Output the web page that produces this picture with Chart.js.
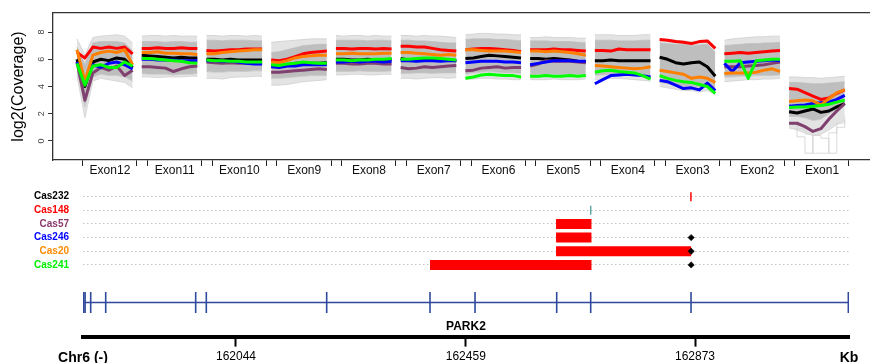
<!DOCTYPE html>
<html><head><meta charset="utf-8">
<script src="https://cdn.jsdelivr.net/npm/chart.js@4"></script>
<style>
html,body{margin:0;padding:0;background:#fff;}
#wrap{position:relative;width:870px;height:363px;overflow:hidden;background:#fff;}
#c1{position:absolute;left:0;top:0;}
#c2{position:absolute;left:0;top:183px;}
</style></head><body>
<div id="wrap">
<canvas id="c1" width="870" height="185"></canvas>
<canvas id="c2" width="870" height="180"></canvas>
</div>
<script>
// ---------- DATA: coverage panel ----------
const exonNames = ['Exon12','Exon11','Exon10','Exon9','Exon8','Exon7','Exon6','Exon5','Exon4','Exon3','Exon2','Exon1'];
const yTickValues = [0, 2, 4, 6, 8];

const covRed = [
  [6.5,6.1,6.9,6.8,6.9,6.8,6.9,6.4],
  [6.8,6.8,6.85,6.8,6.8,6.85,6.8,6.8],
  [6.65,6.6,6.65,6.7,6.7,6.75,6.75,6.75],
  [5.95,5.9,6.0,6.2,6.4,6.5,6.55,6.6],
  [6.8,6.8,6.75,6.8,6.8,6.75,6.8,6.75],
  [6.95,6.95,6.9,6.9,6.8,6.7,6.65,6.6],
  [6.7,6.75,6.8,6.8,6.75,6.7,6.65,6.55],
  [6.7,6.7,6.7,6.75,6.7,6.7,6.65,6.6],
  [6.65,6.65,6.6,6.75,6.7,6.7,6.7,6.7],
  [7.45,7.4,7.3,7.25,7.15,7.3,7.35,6.8],
  [6.4,6.45,6.5,6.45,6.5,6.55,6.6,6.65],
  [3.85,3.8,3.55,3.3,3.05,3.15,3.5,3.75]
];
const covOrange = [
  [6.7,4.4,6.3,6.5,6.6,6.5,6.7,5.6],
  [6.5,6.5,6.55,6.45,6.45,6.4,6.4,6.35],
  [6.4,6.4,6.5,6.55,6.6,6.65,6.7,6.7],
  [5.8,5.75,5.9,6.1,6.2,6.25,6.3,6.3],
  [6.4,6.4,6.45,6.4,6.4,6.4,6.45,6.45],
  [6.5,6.5,6.45,6.4,6.35,6.3,6.35,6.3],
  [6.7,6.7,6.65,6.6,6.6,6.6,6.55,6.5],
  [6.6,6.6,6.55,6.6,6.55,6.5,6.4,6.3],
  [5.55,5.5,5.45,5.4,5.35,5.3,5.35,5.45],
  [5.2,5.1,5.0,4.9,4.6,4.7,4.6,4.3],
  [4.95,5.0,5.0,5.0,5.05,5.2,5.3,5.1],
  [2.9,2.95,3.0,2.95,2.65,3.1,3.55,3.75]
];
const covBlack = [
  [6.0,4.0,5.8,6.0,5.9,6.1,6.0,5.4],
  [6.3,6.25,6.2,6.15,6.1,6.15,6.1,6.1],
  [6.0,6.0,5.95,6.0,5.95,5.95,5.95,5.95],
  [5.5,5.5,5.6,5.7,5.7,5.7,5.7,5.75],
  [6.0,6.0,5.95,5.95,6.0,5.95,5.95,6.0],
  [6.05,5.95,5.9,6.0,6.0,5.95,5.95,5.9],
  [6.05,6.1,6.2,6.3,6.25,6.2,6.15,6.1],
  [6.05,6.05,6.0,6.05,6.0,5.95,5.85,5.8],
  [5.9,5.9,5.95,5.9,5.9,5.9,5.9,5.9],
  [6.15,6.0,5.75,5.65,5.75,5.8,5.45,4.75],
  null,
  [2.15,2.05,2.2,2.35,2.1,2.2,2.5,2.75]
];
const covBlue = [
  [5.8,4.2,5.6,5.4,5.7,5.8,5.6,5.3],
  [6.0,6.0,5.95,5.95,5.95,5.9,5.9,5.9],
  [5.9,5.9,5.85,5.85,5.8,5.7,5.65,5.65],
  [5.45,5.4,5.5,5.5,5.6,5.6,5.6,5.6],
  [5.8,5.8,5.85,5.8,5.85,5.85,5.8,5.85],
  [5.9,5.9,5.85,5.9,5.9,5.85,5.9,5.9],
  [5.75,5.8,5.85,5.85,5.85,5.8,5.8,5.75],
  [5.6,5.7,5.8,5.9,5.9,5.9,5.85,5.85],
  [4.2,4.5,4.8,4.85,4.9,4.85,4.8,4.7],
  [4.45,4.35,4.1,3.85,3.9,3.75,4.25,3.7],
  [5.7,5.1,5.75,5.8,5.85,5.9,5.95,5.9],
  [2.55,2.6,2.65,2.75,2.8,2.85,3.05,3.35]
];
const covGreen = [
  [5.7,4.1,5.5,5.6,5.4,5.4,5.8,5.5],
  [6.05,6.05,6.0,5.95,5.9,5.85,5.75,5.7],
  [5.95,5.9,5.9,5.85,5.85,5.8,5.8,5.8],
  [5.6,5.55,5.65,5.7,5.8,5.75,5.7,5.7],
  [5.95,5.95,5.9,5.95,5.95,6.0,6.0,6.05],
  [6.0,6.0,6.05,6.1,6.1,6.05,6.0,5.95],
  [4.6,4.7,4.85,4.9,4.85,4.8,4.8,4.7],
  [4.75,4.75,4.8,4.75,4.75,4.8,4.75,4.8],
  [5.05,5.15,5.2,5.1,5.05,5.0,4.8,4.55],
  [4.8,4.6,4.45,4.35,4.3,4.15,4.0,3.5],
  [5.85,5.85,5.9,4.6,5.9,5.95,6.0,6.0],
  [2.45,2.5,2.5,2.55,2.6,2.7,2.85,3.0]
];
const covPurple = [
  [5.8,3.0,5.0,5.4,5.2,5.5,4.8,5.2],
  [5.45,5.45,5.4,5.35,5.1,5.3,5.45,5.5],
  [5.8,5.75,5.7,5.75,5.7,5.7,5.75,5.7],
  [5.05,5.05,5.1,5.15,5.2,5.25,5.3,5.25],
  [5.7,5.7,5.65,5.65,5.7,5.7,5.65,5.65],
  [5.4,5.3,5.35,5.45,5.4,5.45,5.5,5.55],
  [5.15,5.2,5.35,5.4,5.45,5.35,5.4,5.4],
  [5.5,5.65,5.9,5.85,5.85,5.85,5.8,5.75],
  null,
  null,
  [5.45,5.45,5.45,5.5,5.55,5.6,5.7,5.8],
  [1.3,1.3,1.05,0.7,0.9,1.6,2.2,2.75]
];
// grey reference samples: outer (light) and inner (dense) envelopes
const bandTop = [
  [7.5,6.3,7.6,7.7,7.75,7.8,7.7,7.2],
  [7.7,7.75,7.75,7.7,7.75,7.7,7.7,7.7],
  [7.75,7.75,7.7,7.75,7.75,7.7,7.75,7.7],
  [7.25,7.3,7.35,7.4,7.45,7.5,7.5,7.5],
  [7.75,7.7,7.75,7.75,7.7,7.75,7.7,7.7],
  [7.75,7.75,7.7,7.75,7.7,7.7,7.65,7.6],
  [7.8,7.85,7.9,7.9,7.85,7.85,7.8,7.8],
  [7.6,7.6,7.65,7.6,7.6,7.6,7.55,7.55],
  [7.8,7.8,7.8,7.75,7.75,7.75,7.8,7.8],
  [7.5,7.45,7.4,7.35,7.3,7.35,7.4,6.85],
  [7.4,7.5,7.55,7.6,7.65,7.65,7.7,7.7],
  [4.7,4.7,4.65,4.65,4.6,4.65,4.7,4.75]
];
const bandHi = [
  [6.9,5.6,7.2,7.3,7.3,7.3,7.2,6.6],
  [7.3,7.3,7.3,7.25,7.3,7.3,7.25,7.25],
  [7.4,7.4,7.35,7.4,7.4,7.4,7.35,7.35],
  [6.5,6.55,6.7,6.85,7.0,7.05,7.1,7.1],
  [7.4,7.4,7.4,7.4,7.35,7.4,7.4,7.35],
  [7.4,7.4,7.35,7.35,7.3,7.25,7.2,7.2],
  [7.45,7.5,7.5,7.5,7.45,7.45,7.4,7.35],
  [7.35,7.35,7.35,7.3,7.3,7.3,7.25,7.2],
  [7.4,7.4,7.4,7.35,7.35,7.35,7.4,7.4],
  [7.2,7.15,7.1,7.1,7.0,7.05,7.1,6.5],
  [7.0,7.05,7.1,7.15,7.15,7.2,7.2,7.25],
  [4.3,4.3,4.25,4.2,4.2,4.25,4.3,4.35]
];
const bandLo = [
  [5.1,2.5,4.7,4.9,4.8,4.8,4.7,4.4],
  [4.95,4.9,4.9,4.9,4.85,4.9,4.9,4.95],
  [5.1,5.05,5.05,5.1,5.1,5.1,5.15,5.15],
  [4.6,4.6,4.65,4.7,4.75,4.8,4.8,4.8],
  [5.1,5.1,5.1,5.15,5.1,5.1,5.1,5.15],
  [4.95,4.95,5.0,5.0,4.95,5.0,5.0,5.0],
  [4.9,5.0,5.05,5.1,5.05,5.0,5.0,4.95],
  [4.85,4.9,4.9,4.9,4.85,4.9,4.9,4.9],
  [4.85,4.85,4.9,4.9,4.85,4.85,4.8,4.8],
  [4.3,4.2,4.1,4.0,4.0,3.95,4.0,3.6],
  [4.7,4.7,4.75,4.75,4.8,4.8,4.8,4.85],
  [1.8,1.8,1.7,1.5,1.6,2.0,2.3,2.6]
];
const bandBot = [
  [4.8,1.7,4.4,4.6,4.5,4.4,4.3,3.9],
  [4.7,4.7,4.65,4.7,4.7,4.7,4.75,4.75],
  [4.6,4.6,4.55,4.65,4.7,4.7,4.75,4.75],
  [4.1,4.1,4.15,4.25,4.35,4.4,4.45,4.5],
  [4.85,4.85,4.9,4.9,4.85,4.85,4.9,4.9],
  [4.6,4.6,4.55,4.6,4.65,4.65,4.6,4.65],
  [4.5,4.55,4.6,4.6,4.55,4.55,4.5,4.5],
  [4.5,4.5,4.5,4.55,4.5,4.5,4.5,4.55],
  [4.5,4.55,4.6,4.6,4.55,4.5,4.45,4.4],
  [4.0,3.9,3.8,3.7,3.7,3.6,3.7,3.4],
  [4.35,4.4,4.45,4.5,4.5,4.55,4.55,4.6],
  [1.0,0.8,0.6,0.4,0.5,0.8,1.2,1.5]
];
const greyDropA = [null,null,null,null,null,null,null,null,null,null,null,
  [1.2,0.3,-0.9,0.4,0.2,-0.9,1.0,1.5]];
const greyDropB = [null,null,null,null,null,null,null,null,null,null,null,
  [0.9,0.9,0.5,-0.9,-0.9,0.6,1.3,1.8]];

// ---------- DATA: CNV / gene panel ----------
const samples      = ['Cas232','Cas148','Cas57','Cas246','Cas20','Cas241'];
const sampleColors = ['#000000','#FF0000','#8B3A6E','#0000FF','#FF8C00','#00EE00'];
const sampleRows   = [1, 2, 3, 4, 5, 6];
const delSample = ['Cas57','Cas246','Cas20','Cas241'];
const delStart  = [162622, 162622, 162622, 162394.4];
const delEnd    = [162686, 162686, 162866, 162686];
const bpSample  = ['Cas232','Cas148'];
const bpPos     = [162865.6, 162684.6];
const bpColors  = ['#FF0000','#5FA8A0'];
const dotSample = ['Cas246','Cas20','Cas241'];
const dotPos    = [162866, 162866, 162866];
const geneName  = 'PARK2';
const geneStart = 161768.5;
const geneEnd   = 163150;
const exonPos   = [161769, 161771.5, 161781.6, 161808.7, 161971.2, 161990.4, 162207.8,
                   162394.4, 162475.7, 162623.2, 162684.6, 162865.8, 163149.9];
const axisMinKb = 161767.7, axisMaxKb = 163151.1;
const kbTicks   = [162044, 162459, 162873];
const chromLabel = 'Chr6 (-)', unitLabel = 'Kb';

// ---------- helpers ----------
Chart.defaults.font.family = '"Liberation Sans", Arial, Helvetica, sans-serif';
const EXON_SPAN = 100, PT_STEP = 86/7;
function toPoints(perExon){
  const pts = [];
  perExon.forEach((vals, i) => {
    if (vals) vals.forEach((v, k) => pts.push({x: i*EXON_SPAN + k*PT_STEP, y: v}));
    pts.push({x: i*EXON_SPAN + 93, y: null});
  });
  return pts;
}
const exonTickVals = [];
exonNames.forEach((n, i) => { exonTickVals.push(i*EXON_SPAN+9, i*EXON_SPAN+51, i*EXON_SPAN+92.5); });

function covLine(label, arr, color, order){
  return {type:'line', label, data: toPoints(arr), borderColor: color, borderWidth: 3,
          pointRadius: 0, fill: false, tension: 0, spanGaps: false, order,
          borderJoinStyle: 'round'};
}
function bandLine(label, arr, border, bg, fill, order, extra){
  return Object.assign({type:'line', label, data: toPoints(arr), borderColor: border, borderWidth: 0.8,
          backgroundColor: bg, pointRadius: 0, fill, tension: 0, spanGaps: false, order}, extra || {});
}

const rotYTicks = {
  id: 'rotYTicks',
  afterDraw(chart){
    const s = chart.scales.y, ctx = chart.ctx;
    ctx.save();
    ctx.fillStyle = '#444';
    ctx.font = '9px "Liberation Sans", Arial, sans-serif';
    ctx.textAlign = 'center'; ctx.textBaseline = 'middle';
    s.ticks.forEach(t => {
      ctx.save();
      ctx.translate(s.right - 11, s.getPixelForValue(t.value));
      ctx.rotate(-Math.PI/2);
      ctx.fillText(String(t.value), 0, 0);
      ctx.restore();
    });
    ctx.restore();
  }
};

// ---------- Chart 1: coverage ----------
new Chart(document.getElementById('c1'), {
  type: 'line',
  data: { datasets: [
    bandLine('ref top', bandTop, '#CFCFCF', '#E3E3E3', '+1', 20),
    bandLine('ref hi',  bandHi,  '#BDBDBD', '#BEBEBE', '+1', 19),
    bandLine('ref lo',  bandLo,  '#C4C4C4', '#E3E3E3', '+1', 18),
    bandLine('ref bot', bandBot, '#D0D0D0', 'transparent', false, 17),
    bandLine('ref a', greyDropA, '#CFCFCF', 'transparent', false, 16, {stepped: true}),
    bandLine('ref b', greyDropB, '#D5D5D5', 'transparent', false, 16, {stepped: true}),
    covLine('Cas232', covBlack,  '#000000', 6),
    covLine('Cas148', covRed,    '#FF0000', 5),
    covLine('Cas57',  covPurple, '#80406F', 4),
    covLine('Cas246', covBlue,   '#0000FF', 3),
    covLine('Cas20',  covOrange, '#FF8000', 2),
    covLine('Cas241', covGreen,  '#00FF00', 1)
  ]},
  options: {
    responsive: false, animation: false, events: [],
    layout: { autoPadding: false, padding: {top: 13, left: 0, right: 0, bottom: 0} },
    plugins: { legend: {display: false}, tooltip: {enabled: false} },
    scales: {
      x: {
        type: 'linear', position: 'bottom', min: -37, max: 1225,
        afterBuildTicks: s => { s.ticks = exonTickVals.map(v => ({value: v})); },
        afterFit: s => { s.height = 25; s.paddingLeft = 0; s.paddingRight = 0; },
        ticks: { autoSkip: false, maxRotation: 0, minRotation: 0, padding: -1,
                 color: '#111', font: {size: 12, lineHeight: 1},
                 callback: (v, i) => (i % 3 === 1 ? exonNames[(i-1)/3] : '') },
        grid: { drawOnChartArea: false, drawTicks: true, tickLength: 6, tickWidth: 1,
                tickColor: c => (c.index % 3 === 1 ? 'rgba(0,0,0,0)' : '#222') },
        border: { color: '#333', width: 1.3 }
      },
      x2: {
        type: 'linear', position: 'top', min: -37, max: 1225,
        afterFit: s => { s.height = 0; s.paddingLeft = 0; s.paddingRight = 0; },
        ticks: { display: false },
        grid: { drawOnChartArea: false, drawTicks: false },
        border: { color: '#333', width: 1.3 }
      },
      y: {
        type: 'linear', min: -1.4, max: 9.4,
        afterBuildTicks: s => { s.ticks = yTickValues.map(v => ({value: v})); },
        afterFit: s => { s.width = 53; s.paddingTop = 0; s.paddingBottom = 0; },
        ticks: { display: false },
        grid: { drawOnChartArea: false, drawTicks: true, tickLength: 5, tickColor: '#333' },
        border: { color: '#333', width: 1.3 },
        title: { display: true, text: 'log2(Coverage)', color: '#000',
                 font: {size: 16}, padding: {top: 9, bottom: 0} }
      }
    }
  },
  plugins: [rotYTicks]
});

// ---------- Chart 2: CNV calls + gene model ----------
const GENE_ROW = 8.75, GENE_LABEL_ROW = 10.52;
const rowOf = name => sampleRows[samples.indexOf(name)];
const geneBlue = '#2F4A9C';

const ds2 = [];
delSample.forEach((s, i) => {
  ds2.push({type:'line', label: 'del ' + s,
            data: [{x: delStart[i], y: rowOf(s)}, {x: delEnd[i], y: rowOf(s)}],
            borderColor: '#FF0000', borderWidth: 10, borderCapStyle: 'butt',
            pointRadius: 0, fill: false, order: 3});
});
ds2.push({type:'line', label: 'gene',
          data: [{x: geneStart, y: GENE_ROW}, {x: geneEnd, y: GENE_ROW}],
          borderColor: geneBlue, borderWidth: 1.6, pointRadius: 0, fill: false, order: 5});
ds2.push({type:'line', label: 'exons', showLine: false,
          data: exonPos.map(x => ({x, y: GENE_ROW})),
          pointStyle: 'line', pointRotation: 90, pointRadius: 10.5,
          pointBorderColor: geneBlue, pointBorderWidth: 1.6, order: 4});
ds2.push({type:'line', label: 'breakpoints', showLine: false,
          data: bpSample.map((s, i) => ({x: bpPos[i], y: rowOf(s)})),
          pointStyle: 'line', pointRotation: 90, pointRadius: 4.5,
          pointBorderColor: bpColors, pointBorderWidth: 1.5, order: 2});
ds2.push({type:'line', label: 'dots', showLine: false,
          data: dotSample.map((s, i) => ({x: dotPos[i], y: rowOf(s)})),
          pointStyle: 'rectRot', pointRadius: 3.2,
          pointBackgroundColor: '#000', pointBorderColor: '#000', pointBorderWidth: 0.5, order: 1});

const geneLabel = {
  id: 'geneLabel',
  afterDatasetsDraw(chart){
    const {ctx, scales: {x, y}} = chart;
    ctx.save();
    ctx.fillStyle = '#000';
    ctx.font = 'bold 12px "Liberation Sans", Arial, sans-serif';
    ctx.textAlign = 'center'; ctx.textBaseline = 'middle';
    ctx.fillText(geneName, x.getPixelForValue((geneStart + geneEnd)/2), y.getPixelForValue(GENE_LABEL_ROW));
    ctx.restore();
  }
};

const kbTickAll = [axisMinKb, ...kbTicks, axisMaxKb];
const kbLabels  = [chromLabel, ...kbTicks.map(String), unitLabel];

new Chart(document.getElementById('c2'), {
  type: 'line',
  data: { datasets: ds2 },
  options: {
    responsive: false, animation: false, events: [],
    layout: { autoPadding: false, padding: {top: 0, left: 0, right: 21, bottom: 0} },
    plugins: { legend: {display: false}, tooltip: {enabled: false} },
    scales: {
      x: {
        type: 'linear', min: axisMinKb, max: axisMaxKb,
        afterBuildTicks: s => { s.ticks = kbTickAll.map(v => ({value: v})); },
        afterFit: s => { s.height = 26.4; s.paddingLeft = 0; s.paddingRight = 0; },
        ticks: { autoSkip: false, maxRotation: 0, minRotation: 0, padding: 3, color: '#000',
                 font: c => (c.index === 0 || c.index === kbTickAll.length - 1)
                             ? {size: 14, weight: 'bold'} : {size: 12},
                 callback: (v, i) => kbLabels[i] },
        grid: { drawOnChartArea: false, drawTicks: true, tickLength: 10, tickWidth: 2,
                tickColor: c => (c.index === 0 || c.index === kbTickAll.length - 1) ? 'rgba(0,0,0,0)' : '#000' },
        border: { color: '#000', width: 4 }
      },
      y: {
        type: 'linear', reverse: true, min: 0, max: 11.25,
        afterBuildTicks: s => { s.ticks = sampleRows.map(v => ({value: v})); },
        afterFit: s => { s.width = 83; s.paddingTop = 0; s.paddingBottom = 0; },
        ticks: { autoSkip: false, padding: 14, font: {size: 10, weight: 'bold'},
                 color: c => sampleColors[c.index],
                 callback: (v, i) => samples[i] },
        grid: { drawTicks: false, color: '#C4C4C4', lineWidth: 1 },
        border: { display: false, dash: [1.5, 2.5] }
      }
    }
  },
  plugins: [geneLabel]
});
</script>
</body></html>
